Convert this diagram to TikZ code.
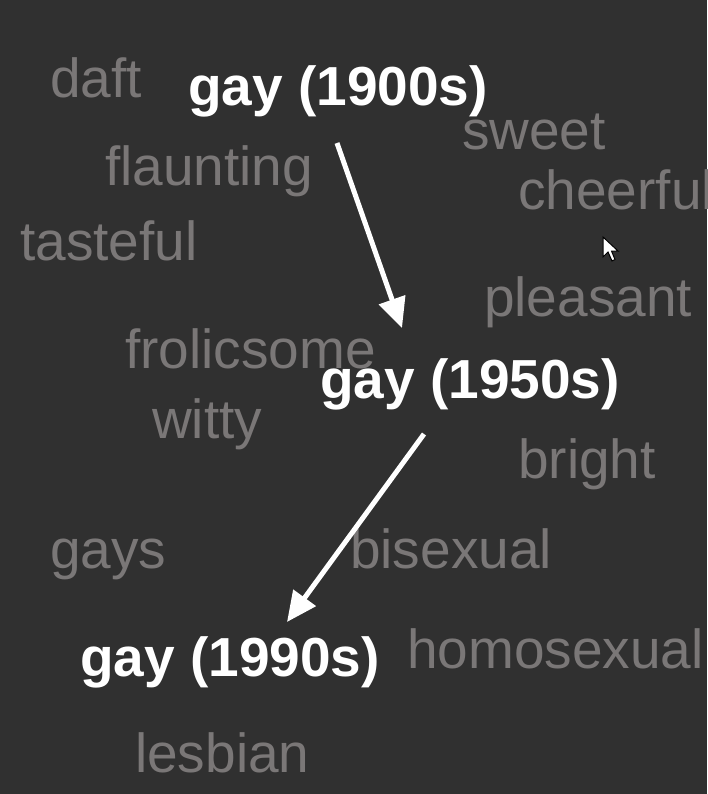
\documentclass[tikz,border=0pt]{standalone}
\usepackage{fontspec}
\setmainfont{Liberation Sans}
\usetikzlibrary{arrows.meta}
\definecolor{bg}{HTML}{303030}
\definecolor{wordgrey}{HTML}{7A7777}
\tikzset{
  word/.style={anchor=base west, inner sep=0pt, text=wordgrey, font=\fontsize{55}{60}\selectfont},
  era/.style={anchor=base west, inner sep=0pt, text=white, font=\fontsize{55}{60}\selectfont\bfseries},
  meaningshift/.style={draw=white, line width=5pt, -{Triangle[length=30pt,width=27pt]}}
}
\begin{document}
\begin{tikzpicture}[x=1pt,y=-1pt]
\clip (0,0) rectangle (707,794);
\fill[bg] (0,0) rectangle (707,794);
\node[word] (daft) at (50,98) {daft};
\node[word] (sweet) at (462,150) {sweet};
\node[word] (flaunting) at (105,186) {flaunting};
\node[word] (cheerful) at (518,210) {cheerful};
\node[word] (tasteful) at (20,260) {tasteful};
\node[word] (pleasant) at (484,316) {pleasant};
\node[word] (frolicsome) at (125,368) {frolicsome};
\node[word] (witty) at (152,438) {witty};
\node[word] (bright) at (518,478) {bright};
\node[word] (gays) at (50,568) {gays};
\node[word] (bisexual) at (350,568) {bisexual};
\node[word] (homosexual) at (407,668) {homosexual};
\node[word] (lesbian) at (135,772) {lesbian};
\node[era] (g1900) at (188,106) {gay (1900s)};
\node[era] (g1950) at (320,398) {gay (1950s)};
\node[era] (g1990) at (80,676) {gay (1990s)};
\coordinate (s1) at (337,143);
\coordinate (e1) at (402,328);
\coordinate (s2) at (424,434);
\coordinate (e2) at (287,622);
\draw[meaningshift] (s1) -- (e1);
\draw[meaningshift] (s2) -- (e2);
% mouse cursor
\draw[fill=white, draw=black, line width=1pt, line join=miter]
  (603,237) -- (603,257) -- (608,252) -- (612,261) -- (615,259.5) -- (611.5,251) -- (618,251) -- cycle;
\end{tikzpicture}
\end{document}
